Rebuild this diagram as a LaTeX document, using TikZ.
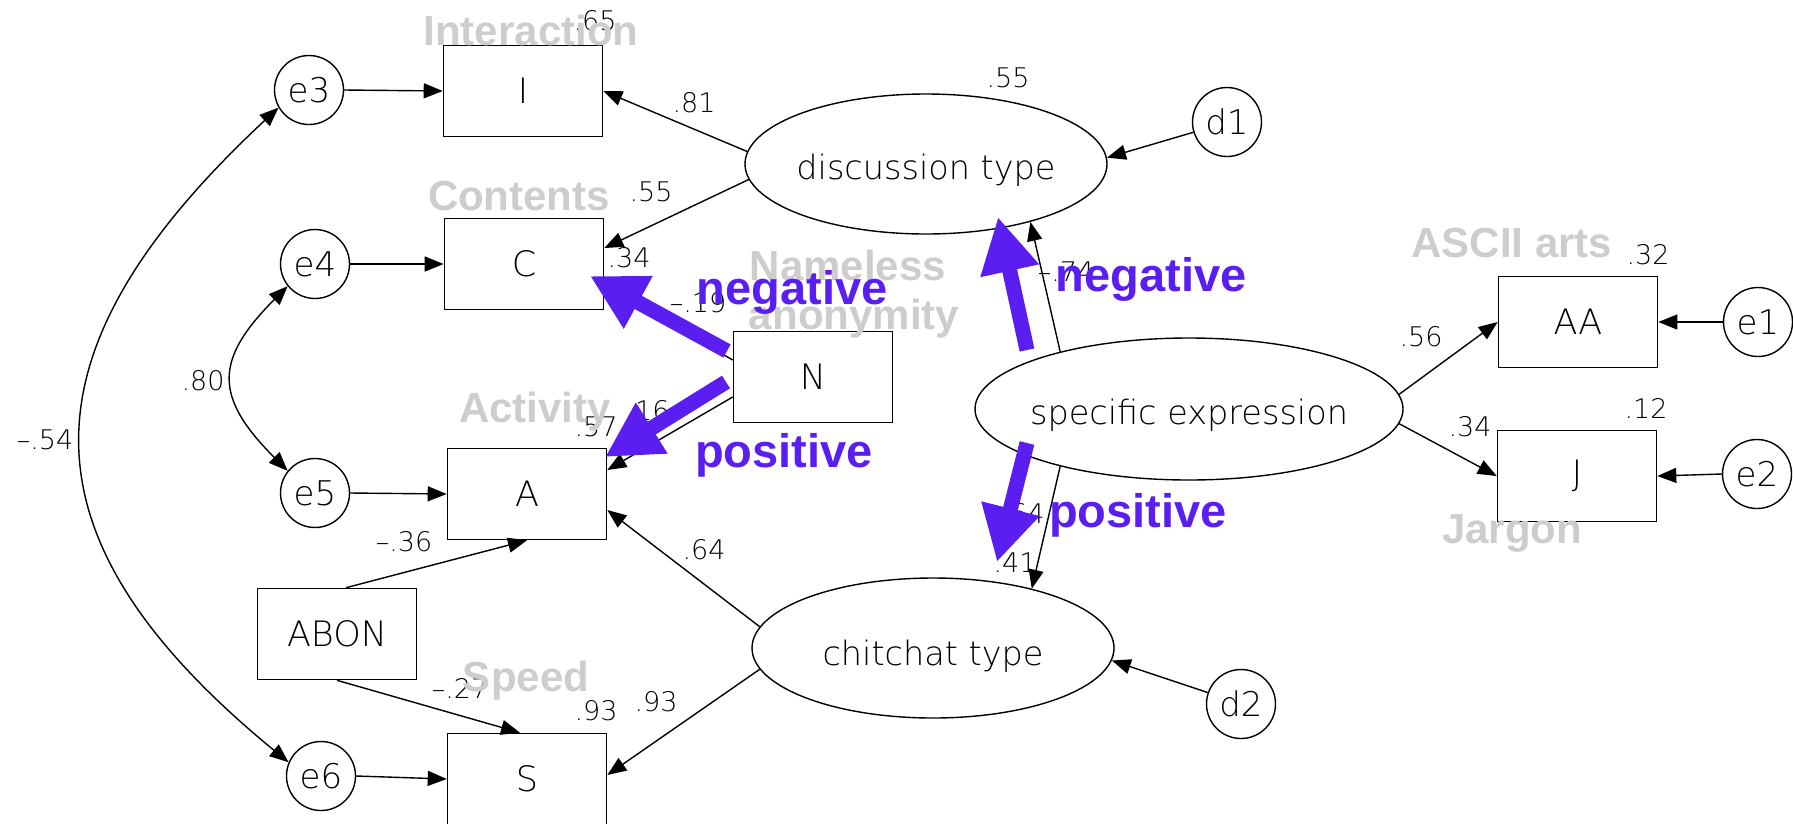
\documentclass[tikz,border=0pt]{standalone}
\usepackage{fontspec}
\setmainfont{Liberation Sans}
\newfontfamily\thinface{DejaVu Sans ExtraLight}
\usetikzlibrary{shapes.geometric,arrows.meta}

\definecolor{cuepurple}{RGB}{90,30,240}
\definecolor{taggray}{RGB}{205,205,205}

\newcommand{\varfont}{\thinface\fontsize{35}{37}\selectfont}
\newcommand{\latfont}{\thinface\fontsize{33.5}{35}\selectfont}
\newcommand{\errfont}{\thinface\fontsize{34}{36}\selectfont}
\newcommand{\coeffont}{\thinface\fontsize{27}{29}\selectfont}
\newcommand{\tagfont}{\fontsize{42}{44}\selectfont\bfseries}
\newcommand{\cuefont}{\fontsize{47}{49}\selectfont\bfseries}

\begin{document}
\begin{tikzpicture}[x=1pt, y=-1pt,
  every node/.style={inner sep=0pt},
  obs/.style={draw, line width=1.6pt, minimum width=159pt, minimum height=91pt, font=\varfont},
  err/.style={draw, circle, line width=1.4pt, minimum size=69pt, font=\errfont},
  lat/.style={draw, ellipse, line width=1.4pt, minimum width=362pt, minimum height=140pt},
  lattext/.style={font=\latfont},
  coef/.style={font=\coeffont},
  graytag/.style={font=\tagfont, text=taggray, anchor=base},
  cue/.style={font=\cuefont, text=cuepurple, anchor=base},
  reg/.style={line width=1.4pt, -{Triangle[length=19pt,width=15pt]}},
  cov/.style={line width=1.4pt, {Triangle[length=19pt,width=15pt]}-{Triangle[length=19pt,width=15pt]}},
  cuearrow/.style={draw=cuepurple, line width=15pt, -{Triangle[length=55pt,width=56pt]}}
]
\useasboundingbox (0,0) rectangle (1793,823);

% observed variables
\node[obs] (I) at (523,91) {I};
\node[obs] (C) at (524,264) {C};
\node[obs] (A) at (527,494) {A};
\node[obs] (S) at (527,779) {S};
\node[obs] (N) at (813,377) {N};
\node[obs] (ABON) at (337,634) {ABON};
\node[obs] (AA) at (1578,322) {AA};
\node[obs] (J) at (1577,476) {J};

% error and disturbance terms
\node[err] (e3) at (309,90) {e3};
\node[err] (e4) at (315,264) {e4};
\node[err] (e5) at (315,493) {e5};
\node[err] (e6) at (321,776) {e6};
\node[err] (d1) at (1227,122) {d1};
\node[err] (d2) at (1241,704) {d2};
\node[err] (e1) at (1758,322) {e1};
\node[err] (e2) at (1757,474) {e2};

% latent factors (ellipse outlines, names set slightly below centre)
\node[lat] (disc) at (926,164) {};
\node[lat, minimum width=428pt, minimum height=142pt] (spec) at (1189,409) {};
\node[lat] (chit) at (933,648) {};
\node[lattext] (discT) at ([yshift=-6pt]disc.center) {discussion type};
\node[lattext] (specT) at ([yshift=-6pt]spec.center) {specific expression};
\node[lattext] (chitT) at ([yshift=-8pt]chit.center) {chitchat type};

% error paths
\draw[reg] (e3.east) -- (I.west);
\draw[reg] (e4.east) -- (C.west);
\draw[reg] (e5.east) -- (A.west);
\draw[reg] (e6.east) -- (S.west);
\draw[reg] (e1.west) -- (AA.east);
\draw[reg] (e2.west) -- (J.east);
\draw[reg] (d1.197) -- (disc.2);
\draw[reg] (d2.161) -- (chit.-4);

% structural paths
\draw[reg] (disc.176) -- (I.east);
\draw[reg] (disc.185) -- ([yshift=16pt]C.east);
\draw[reg] ([yshift=17pt]N.west) -- ([yshift=-22pt]C.east);
\draw[reg] ([yshift=-20pt]N.west) -- ([yshift=24pt]A.east);
\draw[reg] (chit.173) -- ([yshift=-16pt]A.east);
\draw[reg] (chit.187) -- ([yshift=4pt]S.east);
\draw[reg] ([xshift=9pt]ABON.north) -- (A.south);
\draw[reg] (ABON.south) -- ([xshift=-7pt]S.north);
\draw[reg] (spec.156) -- (disc.-29);
\draw[reg] (spec.204) -- (chit.31);
\draw[reg] (spec.4) -- (AA.west);
\draw[reg] (spec.-4) -- (J.west);

% error covariances
\draw[cov] (e3.210) .. controls (15,353) and (15,538) .. (e6.157);
\draw[cov] (e4.219) .. controls (214,360) and (214,397) .. (e5.141);

% coefficients
\node[coef] (k1) at (595,21) {.65};
\node[coef] (k2) at (694,103) {.81};
\node[coef] (k3) at (651,192) {.55};
\node[coef] (k4) at (629,258) {.34};
\node[coef] (k5) at (698,303) {–.19};
\node[coef] (k6) at (648,411) {.16};
\node[coef] (k7) at (596,427) {.57};
\node[coef] (k8) at (404,542) {–.36};
\node[coef] (k9) at (460,688) {–.27};
\node[coef] (k10) at (704,550) {.64};
\node[coef] (k11) at (596,711) {.93};
\node[coef] (k12) at (656,702) {.93};
\node[coef] (k13) at (1008,78) {.55};
\node[coef] (k14) at (1066,272) {–.74};
\node[coef] (k15) at (1023,514) {.64};
\node[coef] (k16) at (1015,563) {.41};
\node[coef] (k17) at (1648,255) {.32};
\node[coef] (k18) at (1421,337) {.56};
\node[coef] (k19) at (1646,408) {.12};
\node[coef] (k20) at (1470,427) {.34};
\node[coef] (k21) at (203,381) {.80};
\node[coef] (k22) at (45,440) {–.54};

% variable names
\node[graytag] (tI) at (531,45) {Interaction};
\node[graytag] (tC) at (519,210) {Contents};
\node[graytag] (tN1) at (848,280) {Nameless};
\node[graytag] (tN2) at (854,329) {anonymity};
\node[graytag] (tA) at (535,422) {Activity};
\node[graytag] (tS) at (526,691) {Speed};
\node[graytag] (tAA) at (1512,257) {ASCII arts};
\node[graytag] (tJ) at (1512,543) {Jargon};

% effect highlights
\coordinate (ncTail) at (727,351); \coordinate (ncTip) at (590,276);
\coordinate (naTail) at (726,382); \coordinate (naTip) at (605,457);
\coordinate (sdTail) at (1027,350); \coordinate (sdTip) at (998,217);
\coordinate (scTail) at (1027,443); \coordinate (scTip) at (997,562);
\draw[cuearrow] (ncTail) -- (ncTip);
\draw[cuearrow] (naTail) -- (naTip);
\draw[cuearrow] (sdTail) -- (sdTip);
\draw[cuearrow] (scTail) -- (scTip);

\node[cue] (qNC) at (792,304) {negative};
\node[cue] (qNA) at (784,467) {positive};
\node[cue] (qSD) at (1151,291) {negative};
\node[cue] (qSC) at (1138,527) {positive};
\end{tikzpicture}
\end{document}
